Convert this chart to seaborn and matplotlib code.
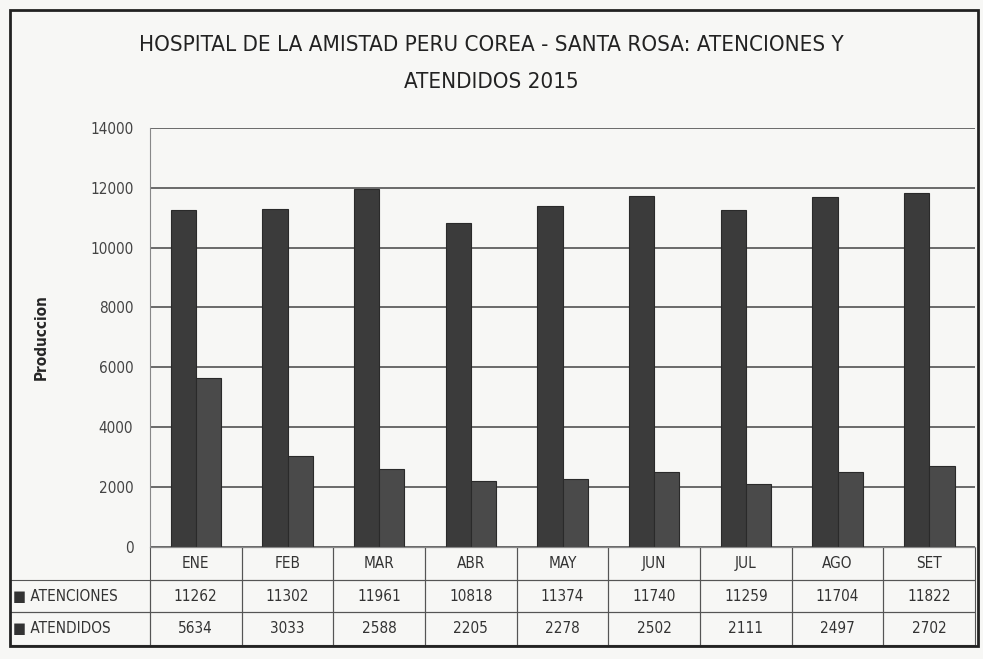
import pandas as pd
import matplotlib.pyplot as plt
import seaborn as sns
from matplotlib.patches import Rectangle

meses = ['ENE', 'FEB', 'MAR', 'ABR', 'MAY', 'JUN', 'JUL', 'AGO', 'SET']
atenciones = [11262, 11302, 11961, 10818, 11374, 11740, 11259, 11704, 11822]
atendidos = [5634, 3033, 2588, 2205, 2278, 2502, 2111, 2497, 2702]
series = ['ATENCIONES', 'ATENDIDOS']

df = pd.DataFrame({'Mes': meses * 2,
                   'Serie': [series[0]] * len(meses) + [series[1]] * len(meses),
                   'Valor': atenciones + atendidos})

sns.set_style('white')
plt.rcParams['font.family'] = ['DejaVu Sans']
plt.rcParams['font.stretch'] = 'condensed'

fig = plt.figure(figsize=(9.83, 6.59), dpi=100)
fig.patch.set_facecolor('#f7f7f5')
ax = fig.add_axes([0.1526, 0.170, 0.8394, 0.636])
ax.set_facecolor('#f7f7f5')

sns.barplot(data=df, x='Mes', y='Valor', hue='Serie', order=meses,
            palette=['#3b3b3b', '#4a4a4a'], width=0.55, ax=ax,
            edgecolor='#2a2a2a', linewidth=0.8, legend=False)

ax.set_ylim(0, 14000)
ax.set_yticks(range(0, 14001, 2000))
ax.tick_params(axis='y', labelsize=11, colors='#444444', length=0, pad=12)
ax.set_xticks([])
ax.set_xlabel('')
ax.set_ylabel('Produccion', fontsize=11, fontweight='bold', labelpad=30)
ax.yaxis.grid(True, color='#444444', linewidth=1.1)
ax.set_axisbelow(True)
for side in ['top', 'right']:
    ax.spines[side].set_visible(False)
ax.spines['left'].set_color('#888888')
ax.spines['bottom'].set_color('#888888')

# data table under the plot
cell_text = [[''] + meses,
             ['\u25a0 ATENCIONES'] + [str(v) for v in atenciones],
             ['\u25a0 ATENDIDOS'] + [str(v) for v in atendidos]]
colw = [140] + [91.6] * len(meses)
tbl = ax.table(cellText=cell_text, colWidths=colw, cellLoc='center',
               bbox=[-0.17, -0.234, 1.17, 0.234])
tbl.auto_set_font_size(False)
tbl.set_fontsize(11)
for (r, c), cell in tbl.get_celld().items():
    cell.set_edgecolor('#555555')
    cell.set_linewidth(0.8)
    cell.set_facecolor('none')
    cell.get_text().set_color('#333333')
    if c == 0:
        cell.get_text().set_ha('left')
        cell.PAD = 0.02
tbl[0, 0].set_linewidth(0)

fig.text(0.5, 0.932, 'HOSPITAL DE LA AMISTAD PERU COREA - SANTA ROSA: ATENCIONES Y',
         ha='center', va='center', fontsize=16, color='#222222')
fig.text(0.5, 0.875, 'ATENDIDOS 2015', ha='center', va='center',
         fontsize=16, color='#222222')

fig.patches.append(Rectangle((0.010, 0.02), 0.985, 0.965, transform=fig.transFigure,
                             fill=False, edgecolor='#222222', linewidth=2))

fig.savefig('out.png', dpi=100, facecolor=fig.get_facecolor())
